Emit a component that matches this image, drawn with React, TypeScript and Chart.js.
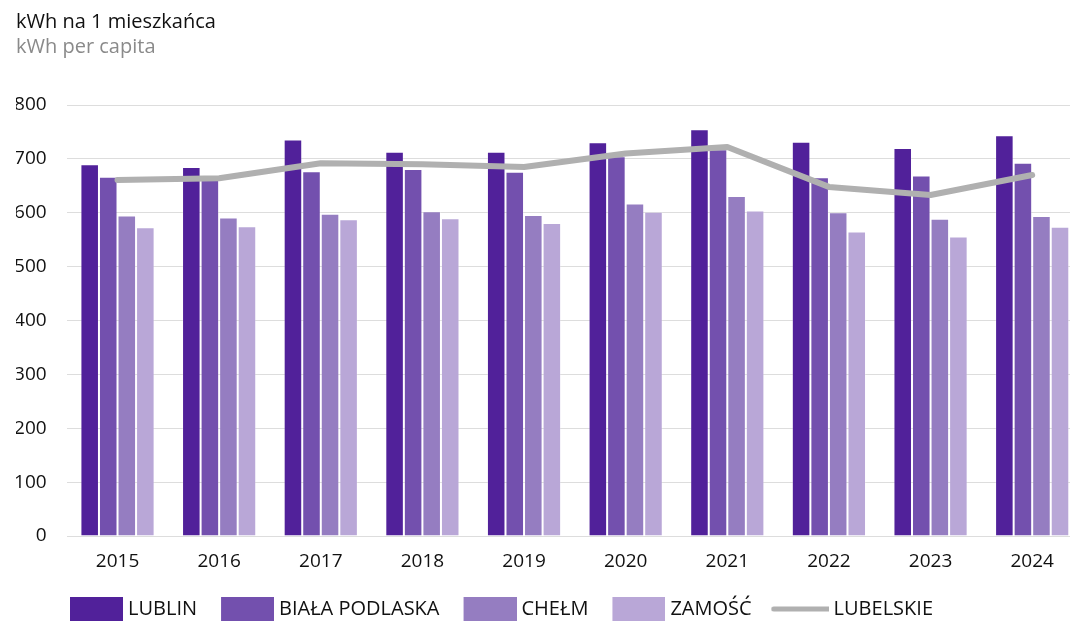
import React, { useEffect, useRef } from "react";
import { Chart, registerables } from "chart.js";

Chart.register(...registerables);

const years = ["2015", "2016", "2017", "2018", "2019", "2020", "2021", "2022", "2023", "2024"];
const lublin = [690, 685, 736, 713, 713, 731, 755, 732, 720, 744];
const bialaPodlaska = [667, 665, 677, 681, 676, 705, 718, 666, 669, 693];
const chelm = [595, 591, 598, 603, 596, 617, 631, 601, 589, 594];
const zamosc = [573, 575, 588, 590, 581, 602, 604, 565, 556, 574];
const lubelskie = [661, 664, 692, 690, 685, 710, 722, 648, 633, 670];
const yTicks = [0, 100, 200, 300, 400, 500, 600, 700, 800];

const FONT = "'Open Sans', 'Noto Sans', sans-serif";
const colors = ["#51219a", "#7350ae", "#957dc1", "#b9a7d7"];
const lineColor = "#b0b0b0";

function makeBoxImage(color: string, isLine: boolean) {
  const c = document.createElement("canvas");
  c.width = 58;
  c.height = 24;
  const ctx = c.getContext("2d")!;
  if (isLine) {
    ctx.strokeStyle = color;
    ctx.lineWidth = 5;
    ctx.lineCap = "round";
    ctx.beginPath();
    ctx.moveTo(3, 12);
    ctx.lineTo(58, 12);
    ctx.stroke();
  } else {
    ctx.fillStyle = color;
    ctx.fillRect(5, 0, 53, 24);
  }
  return c;
}

export default function App() {
  const ref = useRef<HTMLCanvasElement | null>(null);
  useEffect(() => {
    if (!ref.current) return;
    const imgs = [
      makeBoxImage(colors[0], false),
      makeBoxImage(colors[1], false),
      makeBoxImage(colors[2], false),
      makeBoxImage(colors[3], false),
      makeBoxImage(lineColor, true),
    ];
    const names = ["LUBLIN", "BIAŁA PODLASKA", "CHEŁM", "ZAMOŚĆ", "LUBELSKIE"];
    const barSeries = [lublin, bialaPodlaska, chelm, zamosc];
    const legendShift = {
      id: "legendShift",
      afterLayout(chart: any) {
        if (chart.legend) {
          chart.legend.left = 46;
        }
      },
    };
    const chart = new Chart(ref.current, {
      type: "bar",
      data: {
        labels: years,
        datasets: [
          ...barSeries.map((d, i) => ({
            type: "bar" as const,
            label: names[i],
            data: d,
            backgroundColor: colors[i],
            borderColor: "rgba(255,255,255,0.25)",
            borderWidth: 1,
            barPercentage: 1,
            categoryPercentage: 0.73,
            order: 1,
          })),
          {
            type: "line" as const,
            label: names[4],
            data: lubelskie,
            borderColor: lineColor,
            backgroundColor: lineColor,
            borderWidth: 6,
            pointRadius: 0,
            tension: 0,
            order: 0,
            borderCapStyle: "round",
            borderJoinStyle: "round",
          } as any,
        ],
      },
      options: {
        animation: false,
        responsive: false,
        layout: { padding: { left: 16, right: 0, top: 0, bottom: -8 } },
        plugins: {
          tooltip: { enabled: false },
          title: {
            display: true,
            text: "kWh na 1 mieszkańca",
            align: "start",
            color: "#111111",
            font: { family: FONT, size: 20, weight: "normal", lineHeight: 1.2 },
            padding: { top: 10, bottom: 1 },
          },
          subtitle: {
            display: true,
            text: "kWh per capita",
            align: "start",
            color: "#8a8a8a",
            font: { family: FONT, size: 20, weight: "normal", lineHeight: 1.2 },
            padding: { top: 0, bottom: 46 },
          },
          legend: {
            display: true,
            position: "bottom",
            align: "start",
            labels: {
              usePointStyle: true,
              pointStyleWidth: 48,
              padding: 24,
              color: "#111111",
              font: { family: FONT, size: 20 },
              generateLabels: () =>
                names.map((n, i) => ({
                  text: n,
                  datasetIndex: i,
                  pointStyle: imgs[i],
                  fillStyle: i < 4 ? colors[i] : lineColor,
                  strokeStyle: "transparent",
                  lineWidth: 0,
                  hidden: false,
                  fontColor: "#111111",
                })) as any,
            },
          },
        },
        scales: {
          x: {
            grid: { display: false, drawTicks: true, tickLength: 13 },
            border: { display: false },
            ticks: {
              color: "#111111",
              font: { family: FONT, size: 19 },
              padding: 1.6,
            },
          },
          y: {
            min: 0,
            max: 800,
            afterBuildTicks: (axis: any) => {
              axis.ticks = yTicks.map((v) => ({ value: v }));
            },
            afterFit: (axis: any) => {
              axis.width = 50.7;
            },
            grid: { color: "#dddddd", lineWidth: 1, drawTicks: false },
            border: { display: false },
            ticks: {
              color: "#111111",
              font: { family: FONT, size: 19 },
              padding: 20,
            },
          },
        },
      },
      plugins: [legendShift],
    } as any);
    return () => chart.destroy();
  }, []);
  return (
    <div style={{ position: "absolute", left: 0, top: 0, width: 1070, height: 621, overflow: "hidden" }}>
      <canvas ref={ref} width={1083} height={621} style={{ width: 1083, height: 621, display: "block" }} />
    </div>
  );
}
